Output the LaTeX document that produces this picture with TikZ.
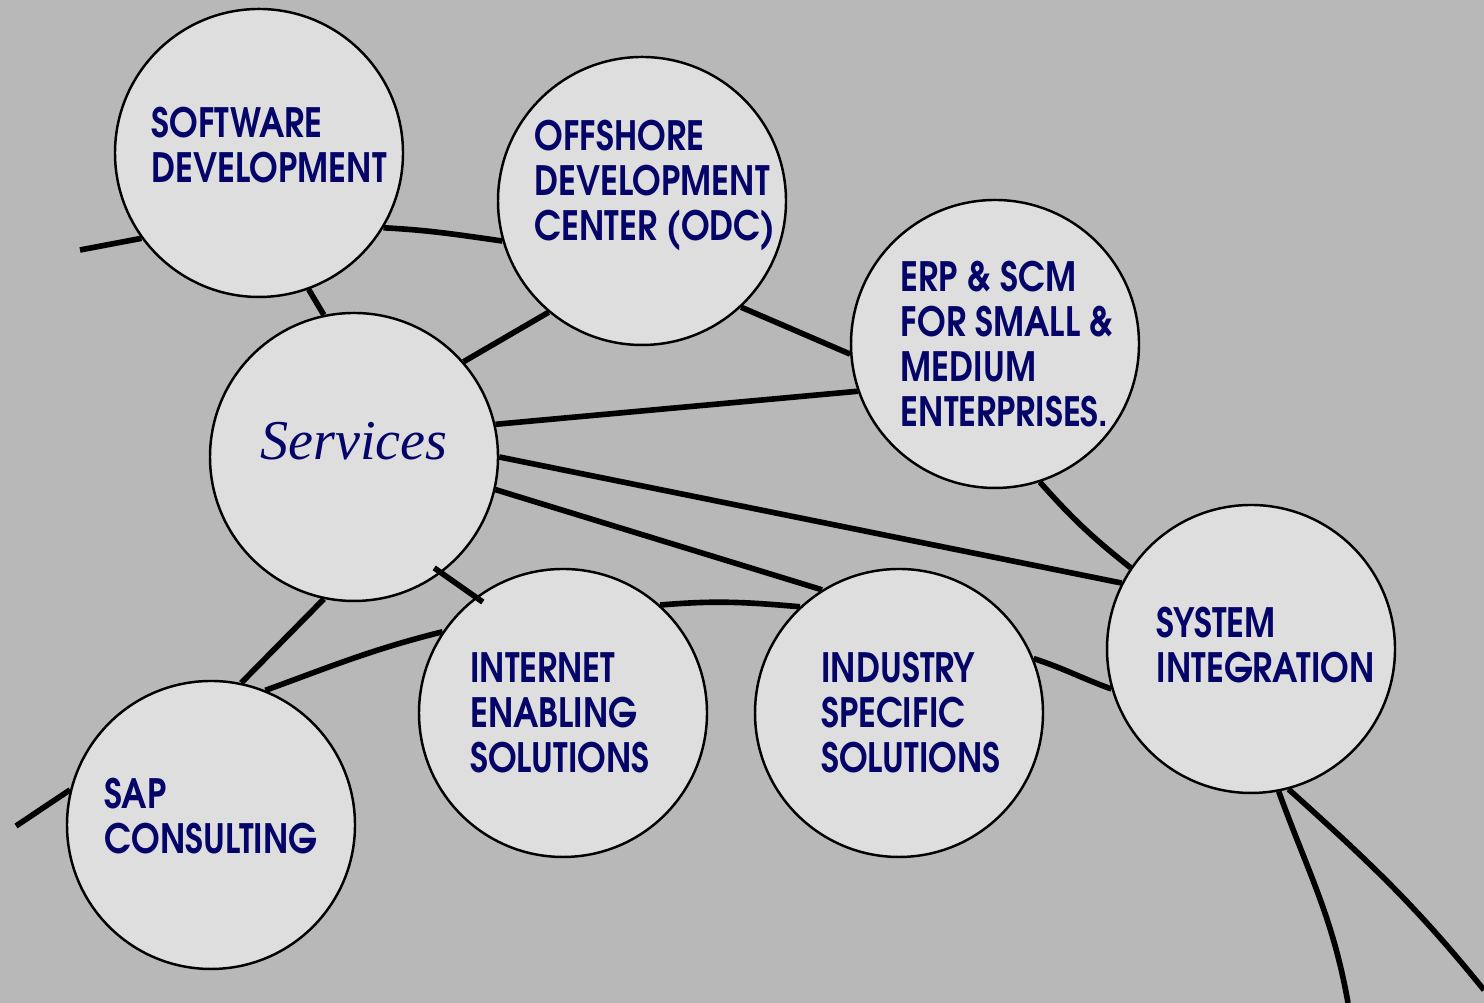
\documentclass[tikz,border=0pt]{standalone}
\usepackage{fontspec}
\newfontfamily\advfont[FakeStretch=0.85]{texgyreadventor-bold.otf}
\newfontfamily\servfont{Liberation Serif}
\definecolor{bggray}{RGB}{184,184,184}
\definecolor{discgray}{RGB}{222,222,222}
\definecolor{inknavy}{RGB}{5,5,105}

\begin{document}
\begin{tikzpicture}[
    disc/.style={circle, draw, line width=0.7pt, fill=discgray, minimum size=2.88cm, inner sep=0pt},
    lbl/.style={align=left, text=inknavy, inner sep=0pt, font={\advfont\fontsize{11.5}{12.8}\selectfont}},
    link/.style={line width=1.6pt}]
  \fill[bggray] (0,0) rectangle (14.84,10.03);
  \useasboundingbox (0,0) rectangle (14.84,10.03);
  % the circles
  \node[disc] (sw) at (2.59, 8.50) {};
  \node[disc] (off) at (6.42, 8.02) {};
  \node[disc] (erp) at (9.95, 6.59) {};
  \node[disc] (serv) at (3.54, 5.46) {};
  \node[disc] (sys) at (12.51, 3.54) {};
  \node[disc] (int) at (5.63, 2.90) {};
  \node[disc] (ind) at (8.99, 2.90) {};
  \node[disc] (sap) at (2.11, 1.78) {};
  % loose ends
  \coordinate (w1) at (0.80, 7.53);
  \coordinate (w2) at (0.16, 1.77);
  \coordinate (s1) at (13.48, 0);
  \coordinate (s2) at (14.84, 0.13);
  % links
  \draw[link] (w1) -- (sw.216);
  \draw[link] (sw.329) to[out=-3, in=172] (off.196);
  \draw[link] (sw.290) -- (serv.102);
  \draw[link] (off.230) -- (serv.41);
  \draw[link] (off.313) -- (erp.184);
  \draw[link] (serv.13) -- (erp.199);
  \draw[link] (serv.0) -- (sys.153);
  \draw[link] (serv.347) -- (ind.122);
  \draw[link, shorten <=-2.5pt, shorten >=-2.5pt] (serv.307) -- (int.127);
  \draw[link] (serv.258) -- (sap.78);
  \draw[link] (erp.288) to[bend right=5] (sys.146);
  \draw[link] (sap.166) -- (w2);
  \draw[link] (sap.68) to[out=20, in=194] (int.146);
  \draw[link] (int.48) to[out=5, in=175] (ind.133);
  \draw[link] (ind.22) to[out=-18, in=160] (sys.196);
  \draw[link] (sys.281) to[out=-70, in=100] (s1);
  \draw[link] (sys.285) to[out=-42, in=129] (s2);
  % texts
  \node[lbl] (swt) at ([xshift=1mm, yshift=0.8mm]sw) {SOFTWARE\\DEVELOPMENT};
  \node[lbl] (offt) at ([xshift=1.3mm, yshift=1.6mm]off) {OFFSHORE\\DEVELOPMENT\\CENTER (ODC)};
  \node[lbl] (erpt) at ([xshift=1.2mm]erp) {ERP \& SCM\\FOR SMALL \&\\MEDIUM\\ENTERPRISES.};
  \node[text=inknavy, font={\servfont\itshape\fontsize{16}{19}\selectfont}] (servt) at ([yshift=1.6mm]serv) {Services};
  \node[lbl] (syst) at ([xshift=1.5mm, yshift=0.4mm]sys) {SYSTEM\\INTEGRATION};
  \node[lbl] (intt) at ([xshift=-0.3mm]int) {INTERNET\\ENABLING\\SOLUTIONS};
  \node[lbl] (indt) at ([xshift=1.2mm]ind) {INDUSTRY\\SPECIFIC\\SOLUTIONS};
  \node[lbl] (sapt) at ([yshift=0.9mm]sap) {SAP\\CONSULTING};
\end{tikzpicture}
\end{document}
